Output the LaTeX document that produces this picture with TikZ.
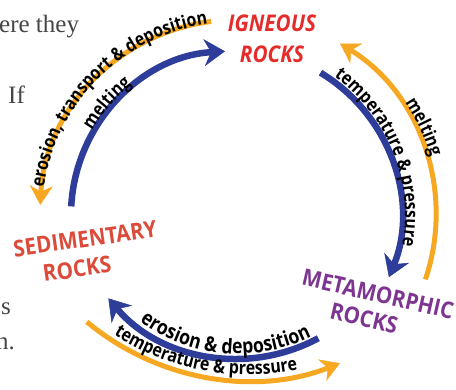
\documentclass[tikz,border=0pt]{standalone}
\usepackage{fontspec}
\setmainfont{Liberation Serif}
\newfontfamily\osansarc{Open Sans}[FakeStretch=0.86]
\newfontfamily\osansrock{Open Sans}[FakeStretch=0.9]
\usetikzlibrary{arrows.meta,decorations.text}
\definecolor{cblue}{HTML}{2E3C9A}
\definecolor{corange}{HTML}{F6A823}
\definecolor{cred}{HTML}{E62B2B}
\definecolor{csed}{HTML}{DC4A3A}
\definecolor{cpurple}{HTML}{7E3592}
\definecolor{bodygrey}{HTML}{454545}
\newcommand\arcfont{\osansarc\bfseries\fontsize{18.5}{18.5}\selectfont}
\newcommand\arcfontbig{\osansarc\bfseries\fontsize{20.5}{20.5}\selectfont}
\newcommand\rockfont{\osansrock\bfseries\fontsize{23}{31}\selectfont}
\begin{document}
\begin{tikzpicture}[x=1pt,y=1pt,
  bluearc/.style={draw=cblue, line width=6.5pt, -{Stealth[length=21pt,width=27pt,inset=7pt,line width=0.5pt]}},
  orangearc/.style={draw=corange, line width=5pt, -{Stealth[length=19pt,width=23pt,inset=6pt,line width=0.5pt]}},
  arctext/.style={decorate, decoration={text along path, text align=center, text={|\arcfont|#1}}},
  arctextbig/.style={decorate, decoration={text along path, text align=center, text={|\arcfontbig|#1}}},
  rocklabel/.style={font=\rockfont, inner sep=1pt},
  bodytext/.style={anchor=base west, inner sep=0pt, text=bodygrey, font=\fontsize{25}{25}\selectfont}]
\useasboundingbox (0,0) rectangle (456,-390);
\clip (0,0) rectangle (456,-390);
\coordinate (C) at (235,-215);
\coordinate (CB) at (237.9,-188.9);
\coordinate (CO) at (248.6,-127.7);
% body text fragments
\node[bodytext] (t1) at (-1,-33) {ere they};
\node[bodytext] (t2) at (8,-104) {If};
\node[bodytext] (t3) at (1,-315) {s};
\node[bodytext] (t4) at (-4,-350) {n.};
% arcs
\draw[bluearc] (C) ++(177:164) arc[start angle=177,end angle=93.5,radius=164];
\draw[orangearc] (C) ++(97:195) arc[start angle=97,end angle=177,radius=195];
\draw[bluearc] (C) ++(59:166) arc[start angle=59,end angle=-22,radius=166];
\draw[orangearc] (C) ++(-18.7:201) arc[start angle=-18.7,end angle=58.5,radius=201];
\draw[bluearc] (CB) ++(-61.7:169.6) arc[start angle=-61.7,end angle=-139.8,radius=169.6];
\draw[orangearc] (CO) ++(-129.8:252.7) arc[start angle=-129.8,end angle=-68.8,radius=252.7];
% arc labels
\path[arctext={erosion, transport {\&} deposition}] (C) ++(197:193) arc[start angle=197,end angle=73,radius=193];
\path[arctext={melting}] (C) ++(199:166) arc[start angle=199,end angle=79,radius=166];
\path[arctext={temperature {\&} pressure}] (C) ++(82:170) arc[start angle=82,end angle=-38,radius=170];
\path[arctext={melting}] (C) ++(85:204) arc[start angle=85,end angle=-35,radius=204];
\path[arctextbig={erosion {\&} deposition}] (CB) ++(-155:165) arc[start angle=-155,end angle=-35,radius=165];
\path[arctext={temperature {\&} pressure}] (CO) ++(-140.8:247) arc[start angle=-140.8,end angle=-60.8,radius=247];
% rock labels
\node[rocklabel, font=\rockfont\itshape, text=cred, align=center] (ign) at (272,-39) {IGNEOUS\\ROCKS};
\node[rocklabel, text=csed, rotate=8] (sed) at (85,-239) {SEDIMENTARY};
\node[rocklabel, text=csed, rotate=8] (sedrocks) at (77,-269) {ROCKS};
\node[rocklabel, text=cpurple, rotate=-13] (met) at (378,-294) {METAMORPHIC};
\node[rocklabel, text=cpurple, rotate=-13] (metrocks) at (364,-318) {ROCKS};
\end{tikzpicture}
\end{document}
